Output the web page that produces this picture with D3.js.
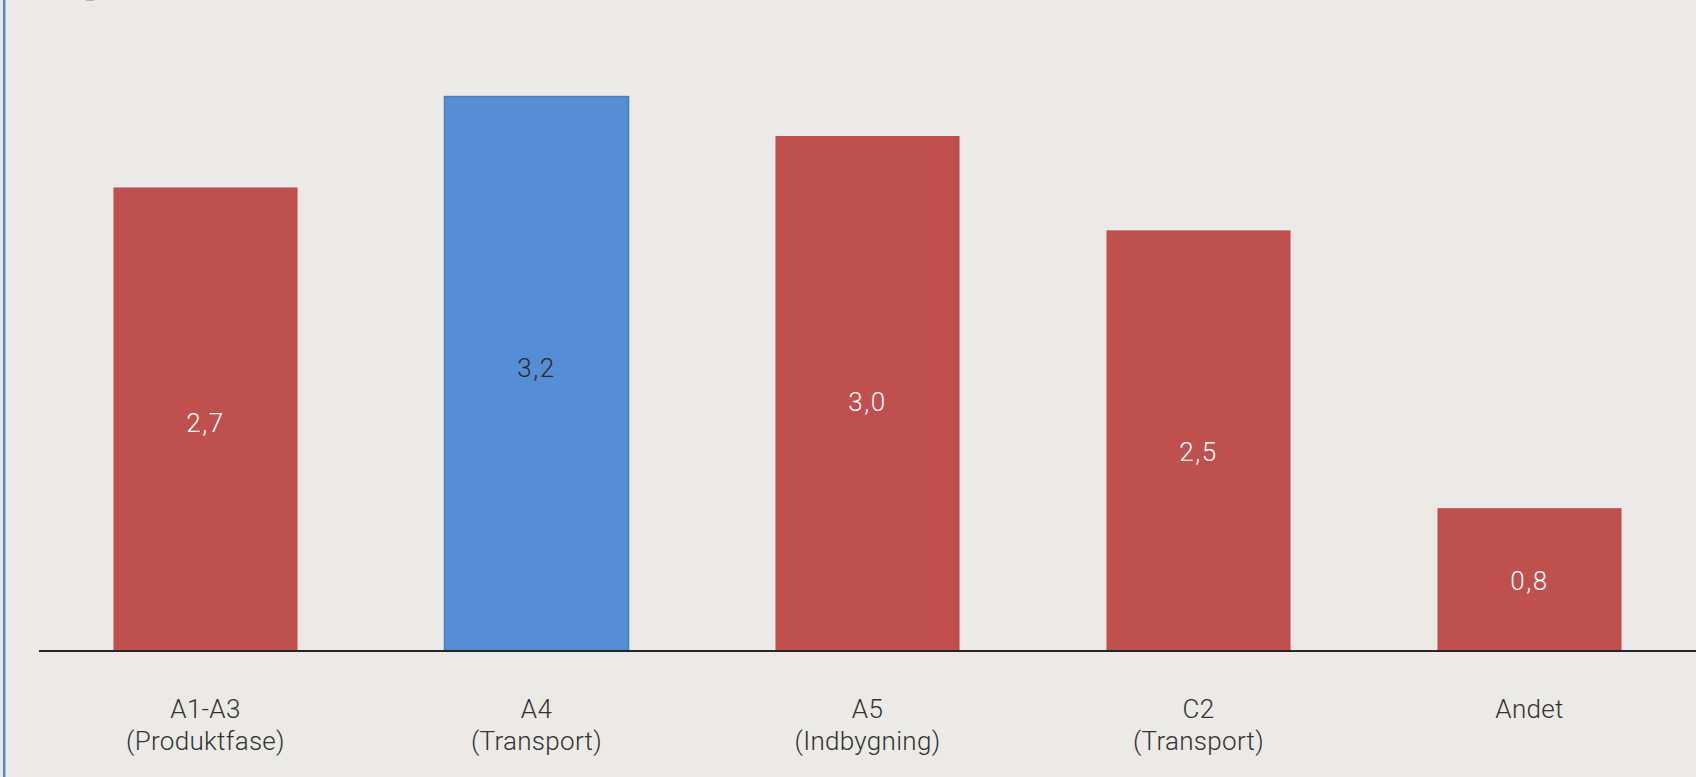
<!DOCTYPE html>
<html>
<head>
<meta charset="utf-8">
<script src="https://cdn.jsdelivr.net/npm/d3@7"></script>
<style>
  html, body { margin: 0; padding: 0; background: #EBEAE6; }
  svg { display: block; font-family: Roboto, "Liberation Sans", sans-serif; }
</style>
</head>
<body>
<svg id="chart"></svg>
<script>
const width = 1696;
const height = 777;

// data
const categories = ['A1-A3', 'A4', 'A5', 'C2', 'Andet'];
const subLabels = ['(Produktfase)', '(Transport)', '(Indbygning)', '(Transport)', ''];
const values = [2.70, 3.23, 3.00, 2.45, 0.83];
const highlighted = ['A4'];

// the value labels are not exactly centred in the original, nudge them (px)
const labelNudge = [3, -7, 8, 11, 1];

const red = '#C0504D';
const blue = '#558ED5';

const svg = d3.select('#chart')
  .attr('width', width)
  .attr('height', height);

svg.append('rect')
  .attr('width', width)
  .attr('height', height)
  .attr('fill', '#EBEAE6');

// left frame edge
svg.append('rect')
  .attr('x', 3).attr('y', 0)
  .attr('width', 2).attr('height', height)
  .attr('fill', '#5B87C6');
svg.append('rect')
  .attr('x', 5).attr('y', 0)
  .attr('width', 1).attr('height', height)
  .attr('fill', '#A9C0E2');
svg.append('rect')
  .attr('x', 86).attr('y', 0)
  .attr('width', 8).attr('height', 1)
  .attr('fill', '#B5B4B0');

const x = d3.scaleBand()
  .domain(categories)
  .range([40, 1695])
  .paddingInner(0.444)
  .paddingOuter(0.222);

const y = d3.scaleLinear()
  .domain([0, 3.5])
  .range([650.5, 650.5 - 3.5 * 171.5]);

const fmt = d => d3.format('.1f')(d).replace('.', ',');

const bars = svg.append('g')
  .selectAll('g')
  .data(categories.map((c, i) => ({ c, v: values[i], sub: subLabels[i], n: labelNudge[i] })))
  .enter()
  .append('g');

bars.append('rect')
  .attr('x', d => x(d.c))
  .attr('y', d => y(d.v))
  .attr('width', x.bandwidth())
  .attr('height', d => y(0) - y(d.v))
  .attr('fill', d => highlighted.includes(d.c) ? blue : red)
  .attr('stroke', d => highlighted.includes(d.c) ? '#4A7EBB' : 'none')
  .attr('stroke-width', 1.5);

bars.append('text')
  .attr('x', d => x(d.c) + x.bandwidth() / 2)
  .attr('y', d => (y(d.v) + y(0)) / 2 + 10 + d.n)
  .attr('text-anchor', 'middle')
  .style('font-size', '26px')
  .style('font-weight', 300)
  .style('letter-spacing', '1.5px')
  .attr('fill', d => highlighted.includes(d.c) ? '#2B2B2B' : '#FFFFFF')
  .text(d => fmt(d.v));

// baseline
svg.append('line')
  .attr('x1', 39).attr('x2', width)
  .attr('y1', y(0) + 0.5).attr('y2', y(0) + 0.5)
  .attr('stroke', '#262626')
  .attr('stroke-width', 2);

const labels = bars.append('text')
  .attr('text-anchor', 'middle')
  .style('font-size', '26px')
  .style('font-weight', 300)
  .style('letter-spacing', '0.3px')
  .attr('fill', '#333333');

labels.append('tspan')
  .attr('x', d => x(d.c) + x.bandwidth() / 2)
  .attr('y', 718)
  .text(d => d.c);

labels.append('tspan')
  .attr('x', d => x(d.c) + x.bandwidth() / 2)
  .attr('y', 750)
  .text(d => d.sub);
</script>
</body>
</html>
